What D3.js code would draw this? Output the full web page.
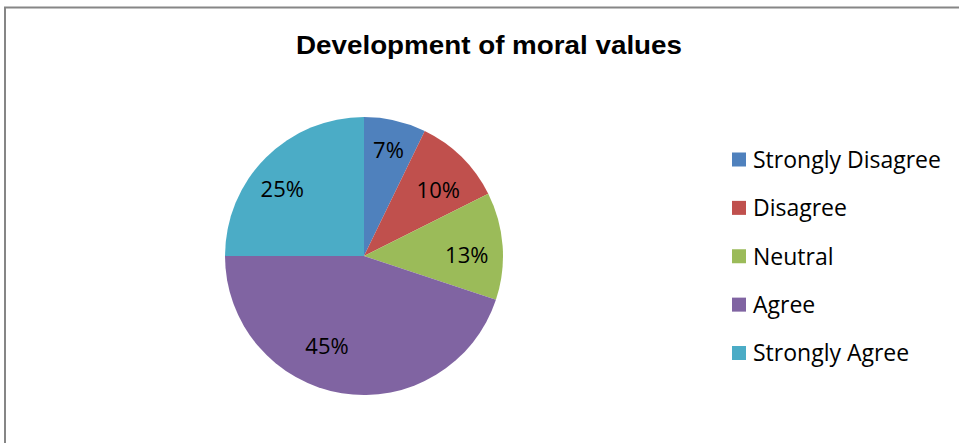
<!DOCTYPE html>
<html>
<head>
<meta charset="utf-8">
<script src="https://cdn.jsdelivr.net/npm/d3@7"></script>
<style>
    body { margin: 0; background: #fff; }
    svg { display: block; }
</style>
</head>
<body>
<script>
"use strict";
(function () {
    // Data (shares; labels show them rounded)
    const categories = ["Strongly Disagree", "Disagree", "Neutral", "Agree", "Strongly Agree"]
    const values = [7.2, 10.4, 12.5, 44.9, 25]
    const sliceColors = ["#4F81BD", "#C0504D", "#9BBB59", "#8064A2", "#4BACC6"]
    const chartTitle = "Development of moral values"

    // Dimensions for svg
    const measurements = {
        width: 959,
        height: 443,
        cx: 364,
        cy: 256,
        radius: 139,
        labelRadius: 100
    }

    // Excel's best-fit nudges for the percent labels (px from centroid)
    const labelNudge = [[2, -8], [4, 5], [3, 6], [-21, -9], [-11, 4]]

    const svgContainer = d3.select("body").append("svg")
        .attr("width", measurements.width)
        .attr("height", measurements.height)

    // Chart frame (cut off on the right and bottom)
    svgContainer.append("rect")
        .attr("x", 5)
        .attr("y", 7.5)
        .attr("width", 1000)
        .attr("height", 500)
        .attr("fill", "none")
        .attr("stroke", "#868686")
        .attr("stroke-width", 2)

    // Title
    svgContainer.append("text")
        .attr("x", 489)
        .attr("y", 54)
        .attr("text-anchor", "middle")
        .attr("textLength", 386)
        .attr("lengthAdjust", "spacingAndGlyphs")
        .style("font-family", "Liberation Sans, Arial, sans-serif")
        .style("font-weight", "bold")
        .style("font-size", "25px")
        .text(chartTitle)

    // Pie
    const pie = d3.pie().sort(null).value(d => d)
    const arcs = pie(values)
    const arc = d3.arc().innerRadius(0).outerRadius(measurements.radius)
    const labelArc = d3.arc().innerRadius(measurements.labelRadius).outerRadius(measurements.labelRadius)

    const color = d3.scaleOrdinal().domain(categories).range(sliceColors)

    const g = svgContainer.append("g")
        .attr("transform", "translate(" + measurements.cx + "," + measurements.cy + ")")

    g.selectAll(".slice")
        .data(arcs)
        .enter()
        .append("path")
        .attr("class", "slice")
        .attr("d", arc)
        .attr("fill", (d, i) => color(categories[i]))

    g.selectAll(".pct")
        .data(arcs)
        .enter()
        .append("text")
        .attr("class", "pct")
        .attr("transform", (d, i) => {
            const c = labelArc.centroid(d)
            return "translate(" + (c[0] + labelNudge[i][0]) + "," + (c[1] + labelNudge[i][1]) + ")"
        })
        .attr("text-anchor", "middle")
        .attr("dy", "0.36em")
        .style("font-family", "Open Sans, sans-serif")
        .style("font-size", "22px")
        .style("fill", "#000")
        .text(d => Math.round(d.data) + "%")

    // Legend
    const legendY = d3.scalePoint().domain(categories).range([159.5, 353])

    const legend = svgContainer.selectAll(".legend")
        .data(categories)
        .enter()
        .append("g")
        .attr("class", "legend")
        .attr("transform", d => "translate(732," + legendY(d) + ")")

    legend.append("rect")
        .attr("x", 0)
        .attr("y", -7)
        .attr("width", 14)
        .attr("height", 14)
        .attr("fill", d => color(d))

    legend.append("text")
        .attr("x", 21)
        .attr("dy", "0.36em")
        .style("font-family", "Open Sans, sans-serif")
        .style("font-size", "23px")
        .style("fill", "#000")
        .text(d => d)
})()
</script>
</body>
</html>
